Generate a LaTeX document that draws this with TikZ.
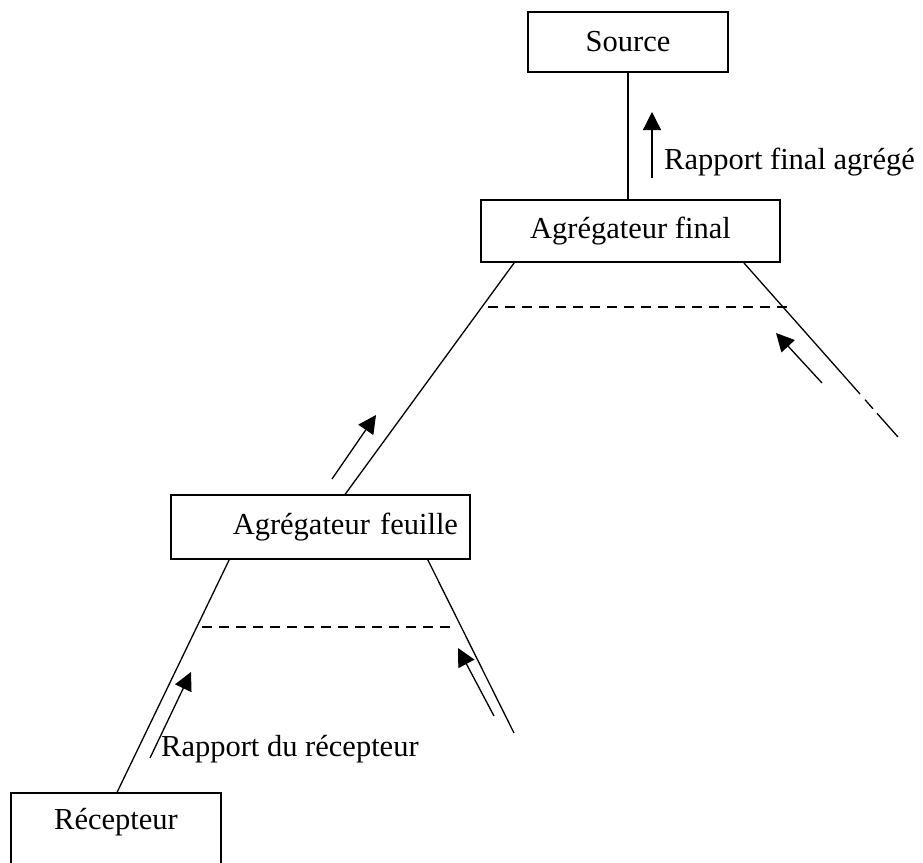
\documentclass[tikz,border=0pt]{standalone}
\usepackage{fontspec}
\setmainfont{Liberation Serif}
\usetikzlibrary{arrows.meta}
\newcommand\labfont{\fontsize{30.5}{36}\selectfont}
\begin{document}
\begin{tikzpicture}[x=1pt,y=-1pt,
  box/.style={draw, line width=1.6pt, inner sep=0pt, font=\labfont},
  conn/.style={line width=1.3pt},
  dashline/.style={line width=1.3pt, dash pattern=on 10pt off 7pt},
  flow/.style={line width=1.3pt, -{Triangle[length=18pt,width=18pt]}},
  lab/.style={font=\labfont, inner sep=0pt}]
\useasboundingbox (0,0) rectangle (923,862);
% boxes
\node[box, minimum width=200pt, minimum height=60pt] (source) at (628,42) {Source};
\node[box, minimum width=299pt, minimum height=62pt] (final) at (630.5,231) {Agrégateur final};
\node[box, text width=275pt, align=right, inner xsep=12pt, minimum height=64pt] (feuille) at (320.5,527) {Agrégateur feuille};
\node[box, minimum width=210pt, minimum height=90pt, anchor=north,
      label={[lab, anchor=center, yshift=-30pt]north:Récepteur}] (recep) at (116,792) {};
% connectors
\draw[conn] (source.south) -- (source.south |- final.north);
\draw[conn] ([xshift=34pt]final.south west) -- ([xshift=175pt]feuille.north west);
\coordinate (r1) at (860,394);
\coordinate (r2) at (865,399.7);
\coordinate (r3) at (873,408.8);
\coordinate (r4) at (877,413.3);
\coordinate (r5) at (898,437);
\draw[conn] ([xshift=-37pt]final.south east) -- (r1);
\draw[conn] (r2) -- (r3);
\draw[conn] (r4) -- (r5);
\draw[conn] ([xshift=59pt]feuille.south west) -- ([xshift=107pt]recep.north west);
\coordinate (fr) at (514,733);
\draw[conn] ([xshift=-43pt]feuille.south east) -- (fr);
% dashed levels
\coordinate (d1a) at (488,307); \coordinate (d1b) at (788,307);
\coordinate (d2a) at (202,627); \coordinate (d2b) at (453,627);
\draw[dashline] (d1a) -- (d1b);
\draw[dashline] (d2a) -- (d2b);
% flow arrows
\coordinate (a1t) at (652,178); \coordinate (a1h) at (652,112);
\coordinate (a2t) at (822,383); \coordinate (a2h) at (776,333);
\coordinate (a3t) at (332,479); \coordinate (a3h) at (376,415);
\coordinate (a4t) at (494,716); \coordinate (a4h) at (458,648);
\coordinate (a5t) at (150,758); \coordinate (a5h) at (191,672);
\draw[flow] (a1t) -- (a1h);
\draw[flow] (a2t) -- (a2h);
\draw[flow] (a3t) -- (a3h);
\draw[flow] (a4t) -- (a4h);
\draw[flow] (a5t) -- (a5h);
% labels
\node[lab, anchor=west] (lfin) at (664,162) {Rapport final agrégé};
\node[lab, anchor=west] (lrec) at (161,749) {Rapport du récepteur};
\end{tikzpicture}
\end{document}
